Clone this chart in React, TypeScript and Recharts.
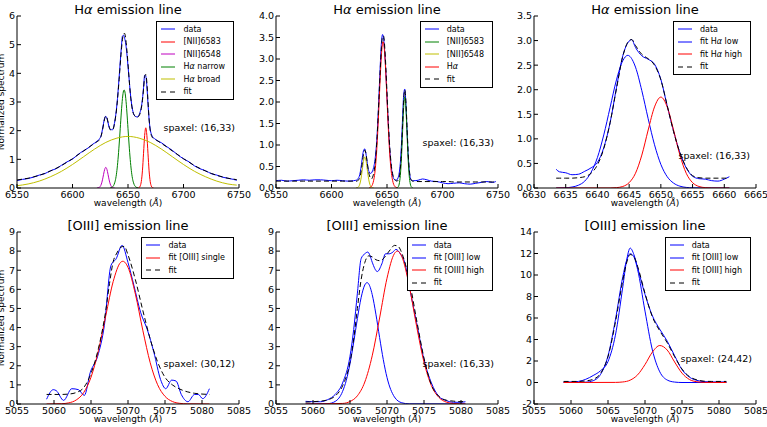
import React from 'react';
import { LineChart, Line, XAxis, YAxis } from 'recharts';

// ---- tick values ----
const haTicks = [6550, 6600, 6650, 6700, 6750];
const haZoomTicks = [6630, 6635, 6640, 6645, 6650, 6655, 6660, 6665];
const oiiiTicks = [5055, 5060, 5065, 5070, 5075, 5080, 5085];
const p1YTicks = [0, 1, 2, 3, 4, 5, 6];
const p2YTicks = [0, 0.5, 1, 1.5, 2, 2.5, 3, 3.5, 4];
const p3YTicks = [0, 0.5, 1, 1.5, 2, 2.5, 3, 3.5];
const p45YTicks = [0, 1, 2, 3, 4, 5, 6, 7, 8, 9];
const p6YTicks = [-2, 0, 2, 4, 6, 8, 10, 12, 14];

// ---- panel 1: H-alpha, broad + narrow ----
const p1Wave = [6550, 6555, 6560, 6565, 6570, 6575, 6580, 6585, 6590, 6595,
  6600, 6605, 6610, 6615, 6618, 6620, 6622, 6624, 6626, 6627,
  6628, 6629, 6630, 6631, 6632, 6633, 6634, 6636, 6638, 6640,
  6641, 6642, 6643, 6644, 6645, 6646, 6647, 6648, 6649, 6650,
  6651, 6652, 6653, 6654, 6656, 6658, 6660, 6661, 6662, 6663,
  6664, 6665, 6666, 6667, 6668, 6669, 6670, 6672, 6674, 6676,
  6680, 6685, 6690, 6695, 6700, 6705, 6710, 6715, 6720, 6725,
  6730, 6735, 6740, 6745, 6748];
const p1Data = [0.26, 0.30, 0.33, 0.38, 0.45, 0.50, 0.60, 0.67, 0.79, 0.91,
  1.01, 1.17, 1.30, 1.42, 1.52, 1.57, 1.63, 1.70, 1.86, 2.05,
  2.26, 2.45, 2.50, 2.43, 2.28, 2.12, 2.05, 2.03, 2.30, 2.90,
  3.35, 3.86, 4.40, 4.90, 5.30, 5.33, 5.22, 5.02, 4.68, 4.25,
  3.80, 3.35, 3.00, 2.75, 2.52, 2.48, 2.55, 2.66, 2.82, 3.10,
  3.50, 3.93, 3.90, 3.55, 2.95, 2.40, 2.05, 1.80, 1.72, 1.66,
  1.58, 1.44, 1.31, 1.15, 1.02, 0.91, 0.77, 0.67, 0.60, 0.50,
  0.45, 0.38, 0.34, 0.30, 0.27];
const p1Fit = [0.28, 0.31, 0.34, 0.39, 0.44, 0.51, 0.59, 0.68, 0.78, 0.90,
  1.02, 1.16, 1.29, 1.43, 1.51, 1.56, 1.61, 1.67, 1.84, 2.01,
  2.23, 2.42, 2.51, 2.46, 2.30, 2.14, 2.03, 2.02, 2.28, 2.86,
  3.29, 3.78, 4.30, 4.79, 5.18, 5.38, 5.39, 5.19, 4.81, 4.33,
  3.82, 3.33, 2.98, 2.72, 2.52, 2.46, 2.52, 2.62, 2.78, 3.05,
  3.45, 3.88, 3.96, 3.68, 3.04, 2.41, 2.02, 1.76, 1.70, 1.66,
  1.56, 1.43, 1.29, 1.16, 1.02, 0.90, 0.78, 0.68, 0.59, 0.51,
  0.44, 0.39, 0.34, 0.31, 0.29];
const p1BroadWave = [6550, 6560, 6570, 6580, 6590, 6600, 6610, 6620, 6630, 6640, 6650,
  6660, 6670, 6680, 6690, 6700, 6710, 6720, 6730, 6740, 6748];
const p1Broad = [0.08, 0.14, 0.24, 0.39, 0.58, 0.82, 1.09, 1.36, 1.59, 1.74, 1.80,
  1.74, 1.59, 1.36, 1.09, 0.82, 0.58, 0.39, 0.24, 0.14, 0.10];
const p1N6548Wave = [6622, 6623, 6624, 6625, 6626, 6627, 6628, 6629, 6630, 6631, 6632, 6633, 6634, 6635, 6636, 6637, 6638];
const p1N6548 = [0, 0.004, 0.017, 0.055, 0.138, 0.284, 0.477, 0.65, 0.72, 0.65, 0.477, 0.284, 0.138, 0.055, 0.017, 0.004, 0];
const p1HaNarrowWave = [6634, 6635, 6636, 6637, 6638, 6639, 6640, 6641, 6642, 6643, 6644, 6645, 6646, 6646.5,
  6647, 6648, 6649, 6650, 6651, 6652, 6653, 6654, 6655, 6656, 6657, 6658, 6659];
const p1HaNarrow = [0.005, 0.015, 0.038, 0.085, 0.18, 0.34, 0.61, 1.0, 1.5, 2.07, 2.65, 3.12, 3.39, 3.42,
  3.39, 3.12, 2.65, 2.07, 1.5, 1.0, 0.61, 0.34, 0.18, 0.085, 0.038, 0.015, 0.005];
const p1N6583Wave = [6659, 6660, 6661, 6662, 6663, 6664, 6665, 6666, 6667, 6668, 6669, 6670, 6671, 6672, 6673];
const p1N6583 = [0, 0.014, 0.066, 0.23, 0.60, 1.21, 1.83, 2.1, 1.83, 1.21, 0.60, 0.23, 0.066, 0.014, 0];

// ---- panel 2: H-alpha, narrow only ----
const p2Wave = [6550, 6555, 6560, 6565, 6570, 6575, 6580, 6585, 6590, 6595, 6600, 6605, 6610, 6615, 6620,
  6622, 6623, 6624, 6625, 6626, 6627, 6628, 6629, 6630, 6631,
  6632, 6633, 6634, 6635, 6636, 6637, 6638, 6639, 6640, 6641,
  6642, 6643, 6644, 6645, 6646, 6647, 6648, 6649, 6650, 6651,
  6652, 6653, 6654, 6655, 6656, 6657, 6658, 6659, 6660, 6661,
  6662, 6663, 6664, 6665, 6666, 6667, 6668, 6669, 6670, 6671,
  6672, 6673, 6674,
  6678, 6682, 6686, 6690, 6695, 6700, 6705, 6710, 6715, 6720, 6725, 6730, 6735, 6740, 6745, 6748];
const p2Data = [0.17, 0.18, 0.16, 0.17, 0.18, 0.19, 0.18, 0.19, 0.19, 0.18, 0.17, 0.18, 0.17, 0.16, 0.17,
  0.18, 0.19, 0.22, 0.27, 0.38, 0.55, 0.75, 0.88, 0.91, 0.80,
  0.62, 0.45, 0.37, 0.34, 0.35, 0.40, 0.48, 0.62, 0.85, 1.20,
  1.70, 2.30, 2.90, 3.38, 3.57, 3.46, 3.15, 2.68, 2.12, 1.58,
  1.10, 0.72, 0.46, 0.30, 0.22, 0.19, 0.18, 0.19, 0.24, 0.35,
  0.58, 1.00, 1.60, 2.15, 2.30, 1.98, 1.40, 0.82, 0.42, 0.24,
  0.18, 0.17, 0.17,
  0.18, 0.21, 0.19, 0.16, 0.15, 0.12, 0.10, 0.11, 0.12, 0.10, 0.09, 0.11, 0.13, 0.15, 0.13, 0.15];
const p2Fit = [0.16, 0.16, 0.16, 0.16, 0.16, 0.16, 0.16, 0.16, 0.16, 0.16, 0.16, 0.16, 0.16, 0.16, 0.16,
  0.16, 0.16, 0.18, 0.21, 0.30, 0.44, 0.63, 0.81, 0.88, 0.81,
  0.63, 0.44, 0.31, 0.23, 0.21, 0.25, 0.34, 0.50, 0.77, 1.15,
  1.65, 2.22, 2.79, 3.26, 3.53, 3.53, 3.26, 2.79, 2.22, 1.65,
  1.15, 0.77, 0.50, 0.34, 0.24, 0.20, 0.17, 0.16, 0.18, 0.25,
  0.45, 0.85, 1.45, 2.03, 2.28, 2.03, 1.45, 0.85, 0.45, 0.25,
  0.18, 0.16, 0.16,
  0.15, 0.15, 0.15, 0.15, 0.15, 0.15, 0.15, 0.14, 0.14, 0.14, 0.14, 0.14, 0.14, 0.14, 0.14, 0.14];
const p2N6583Wave = [6659, 6660, 6661, 6662, 6663, 6664, 6665, 6666, 6667, 6668, 6669, 6670, 6671, 6672, 6673];
const p2N6583 = [0.005, 0.024, 0.093, 0.29, 0.69, 1.29, 1.87, 2.12, 1.87, 1.29, 0.69, 0.29, 0.093, 0.024, 0.005];
const p2N6548Wave = [6622, 6623, 6624, 6625, 6626, 6627, 6628, 6629, 6630, 6631, 6632, 6633, 6634, 6635, 6636, 6637, 6638];
const p2N6548 = [0, 0.004, 0.017, 0.055, 0.138, 0.284, 0.477, 0.65, 0.72, 0.65, 0.477, 0.284, 0.138, 0.055, 0.017, 0.004, 0];
const p2HaWave = [6634, 6635, 6636, 6637, 6638, 6639, 6640, 6641, 6642, 6643, 6644, 6645, 6646, 6646.5,
  6647, 6648, 6649, 6650, 6651, 6652, 6653, 6654, 6655, 6656, 6657, 6658, 6659];
const p2Ha = [0.005, 0.015, 0.038, 0.085, 0.18, 0.34, 0.61, 0.99, 1.49, 2.06, 2.63, 3.10, 3.37, 3.40,
  3.37, 3.10, 2.63, 2.06, 1.49, 0.99, 0.61, 0.34, 0.18, 0.085, 0.038, 0.015, 0.005];

// ---- panel 3: H-alpha, two components ----
const p3Wave = [6633.5, 6634, 6635, 6636, 6637, 6638, 6639, 6640, 6641, 6642,
  6643, 6644, 6645, 6645.4, 6646, 6647, 6648, 6649, 6650, 6651,
  6652, 6653, 6654, 6655, 6656, 6657, 6658, 6659, 6660, 6660.8];
const p3Data = [0.38, 0.33, 0.31, 0.27, 0.28, 0.34, 0.41, 0.52, 0.82, 1.33,
  2.04, 2.69, 2.99, 3.02, 2.86, 2.69, 2.62, 2.52, 2.21, 1.67,
  1.16, 0.72, 0.41, 0.24, 0.19, 0.18, 0.15, 0.14, 0.18, 0.23];
const p3Fit = [0.20, 0.20, 0.20, 0.20, 0.21, 0.23, 0.30, 0.47, 0.80, 1.33,
  2.02, 2.68, 3.00, 3.02, 2.90, 2.72, 2.63, 2.50, 2.20, 1.68,
  1.15, 0.72, 0.42, 0.25, 0.21, 0.20, 0.20, 0.20, 0.20, 0.20];
const p3LowWave = [6633.5, 6635, 6636, 6637, 6638, 6639, 6640, 6641, 6642, 6643, 6644, 6644.8,
  6645, 6646, 6647, 6648, 6649, 6650, 6651, 6652, 6653, 6654, 6655, 6657, 6660.8];
const p3Low = [0, 0.005, 0.02, 0.056, 0.14, 0.32, 0.62, 1.08, 1.64, 2.20, 2.59, 2.70,
  2.69, 2.46, 1.98, 1.41, 0.88, 0.48, 0.23, 0.10, 0.037, 0.012, 0.003, 0, 0];
const p3HighWave = [6633.5, 6642, 6643, 6644, 6645, 6646, 6647, 6648, 6649, 6650,
  6651, 6652, 6653, 6654, 6655, 6656, 6657, 6658, 6660.8];
const p3High = [0, 0, 0.007, 0.031, 0.109, 0.30, 0.67, 1.18, 1.65, 1.85,
  1.65, 1.18, 0.67, 0.30, 0.109, 0.031, 0.007, 0, 0];

// ---- panel 4: [OIII] single ----
const p4Wave = [5059.0, 5059.9, 5060.3, 5061.3, 5062.4, 5063.3, 5064.1, 5064.9, 5065.9, 5066.8,
  5067.7, 5068.4, 5069.2, 5070.0, 5070.8, 5071.7, 5072.6, 5073.5, 5074.4, 5075.1,
  5075.9, 5076.5, 5077.2, 5078.1, 5079.0, 5079.5, 5080.1, 5081.0];
const p4Data = [0.25, 0.75, 0.70, 0.19, 0.80, 0.75, 0.45, 1.65, 2.5, 4.1,
  7.25, 7.6, 8.3, 7.4, 6.2, 4.8, 3.9, 2.7, 1.28, 0.8,
  1.25, 1.2, 0.5, 0.12, 0.5, 0.5, 0.28, 0.8];
const p4FitWave = [5059, 5060, 5061, 5062, 5063, 5064, 5065, 5066, 5067, 5067.5, 5068, 5068.5, 5069,
  5069.5, 5070, 5071, 5072, 5073, 5074, 5075, 5076, 5077, 5078, 5079, 5080, 5081];
const p4Fit = [0.5, 0.5, 0.5, 0.52, 0.6, 0.85, 1.6, 2.9, 4.9, 6.3, 7.45, 7.9, 8.2,
  8.25, 7.8, 6.5, 4.9, 3.4, 2.2, 1.4, 1.0, 0.78, 0.64, 0.56, 0.52, 0.5];
const p4SingleWave = [5059, 5061, 5062, 5063, 5064, 5065, 5066, 5067, 5068, 5069, 5069.3,
  5070, 5071, 5072, 5073, 5074, 5075, 5076, 5077, 5078, 5081];
const p4Single = [0, 0.015, 0.06, 0.21, 0.59, 1.40, 2.79, 4.63, 6.41, 7.41, 7.47,
  7.15, 5.75, 3.86, 2.16, 1.01, 0.40, 0.13, 0.035, 0.008, 0];

// ---- panel 5: [OIII] two components, spaxel (16,33) ----
const p5Wave = [5059.0, 5060.0, 5061.0, 5062.0, 5063.0, 5064.0, 5065.0, 5065.5, 5066.0, 5066.5,
  5067.0, 5067.4, 5067.7, 5068.0, 5068.7, 5069.3, 5069.8, 5070.3, 5070.8, 5071.2,
  5071.8, 5072.5, 5073.0, 5074.0, 5075.0, 5076.0, 5077.0, 5078.0, 5079.0, 5080.0, 5080.6];
const p5Data = [0.14, 0.12, 0.12, 0.23, 0.5, 1.1, 2.5, 3.9, 5.8, 7.6,
  7.86, 7.95, 7.77, 7.42, 6.93, 7.33, 7.86, 7.86, 7.95, 8.09,
  7.86, 7.25, 6.19, 4.26, 2.33, 1.1, 0.4, 0.18, 0.09, 0.09, 0.12];
const p5FitWave = [5059, 5060, 5061, 5062, 5063, 5064, 5065, 5065.5, 5066, 5066.5,
  5067, 5067.5, 5068, 5068.5, 5069, 5069.5, 5070, 5070.5, 5071, 5071.5,
  5072, 5072.5, 5073, 5074, 5075, 5076, 5077, 5078, 5079, 5080, 5080.6];
const p5Fit = [0.1, 0.12, 0.15, 0.22, 0.42, 0.95, 2.2, 3.4, 5.0, 6.5,
  7.4, 7.75, 7.7, 7.55, 7.5, 7.6, 7.85, 8.1, 8.3, 8.25,
  7.9, 7.3, 6.5, 4.4, 2.4, 1.0, 0.4, 0.2, 0.15, 0.12, 0.15];
const p5LowWave = [5059, 5062, 5063, 5064, 5064.5, 5065, 5065.5, 5066, 5066.5, 5067, 5067.3,
  5067.5, 5068, 5068.5, 5069, 5069.5, 5070, 5071, 5072, 5073, 5080.6];
const p5Low = [0, 0.018, 0.135, 0.66, 1.24, 2.11, 3.23, 4.47, 5.56, 6.23, 6.35,
  6.30, 5.73, 4.70, 3.48, 2.32, 1.39, 0.37, 0.064, 0.007, 0];
const p5HighWave = [5059, 5064, 5065, 5066, 5067, 5068, 5069, 5070, 5071, 5071.4,
  5072, 5073, 5074, 5075, 5076, 5077, 5078, 5079, 5080.6];
const p5High = [0, 0.03, 0.13, 0.43, 1.15, 2.52, 4.50, 6.58, 7.87, 8.0,
  7.72, 6.19, 4.07, 2.19, 0.96, 0.35, 0.10, 0.025, 0];

// ---- panel 6: [OIII] two components, spaxel (24,42) ----
const p6Wave = [5059, 5060, 5061, 5062, 5063, 5064, 5065, 5066, 5067, 5067.5, 5068, 5068.5, 5069,
  5070, 5071, 5072, 5073, 5074, 5075, 5076, 5077, 5078, 5079, 5080, 5081];
const p6Data = [0.05, 0.05, 0.1, 0.3, 0.65, 1.1, 1.95, 4.4, 8.9, 11.3, 12.5, 11.9, 10.7,
  8.2, 6.2, 4.95, 3.85, 2.5, 1.2, 0.5, 0.2, 0.08, 0.05, 0.05, 0.05];
const p6Fit = [0.1, 0.1, 0.1, 0.15, 0.3, 0.85, 2.4, 5.6, 9.5, 11.1, 11.9, 11.7, 10.8,
  8.3, 6.1, 4.8, 3.7, 2.4, 1.25, 0.55, 0.25, 0.12, 0.1, 0.1, 0.1];
const p6LowWave = [5059, 5061, 5062, 5063, 5064, 5065, 5066, 5067, 5067.5, 5068, 5068.5, 5069,
  5070, 5071, 5072, 5073, 5074, 5075, 5081];
const p6Low = [0, 0.002, 0.03, 0.17, 0.76, 2.48, 5.83, 9.84, 11.31, 11.98, 11.69, 10.51,
  6.64, 3.02, 0.99, 0.23, 0.04, 0, 0];
const p6HighWave = [5059, 5066, 5067, 5068, 5069, 5070, 5071, 5072, 5073, 5074, 5075, 5076, 5077, 5078, 5081];
const p6High = [0, 0.01, 0.05, 0.22, 0.71, 1.67, 2.83, 3.44, 3.02, 1.91, 0.87, 0.28, 0.07, 0.01, 0];

const BLUE = '#0000ff';
const RED = '#ff0000';
const GREEN = '#008000';
const MAGENTA = '#bf00bf';
const YELLOW = '#bfbf00';
const BLACK = '#000000';

const PW = 222;
const PH = 172;
const FONT = 'DejaVu Sans';
const tickFont = { fontSize: 9.5, fill: '#000', fontFamily: FONT };

const zip = (xs: number[], ys: number[]) => xs.map((x, i) => ({ x, y: ys[i] }));

interface Series {
  label: React.ReactNode;
  xs: number[];
  ys: number[];
  color: string;
  dashed?: boolean;
}

interface PanelProps {
  left: number;
  top: number;
  xDomain: [number, number];
  xTicks: number[];
  yDomain: [number, number];
  yTicks: number[];
  yDigits: number;
  title: React.ReactNode;
  series: Series[];
  spaxel: string;
  spaxelY: number;
  spaxelInset?: number;
  yLabel?: boolean;
}

const Panel: React.FC<PanelProps> = ({
  left, top, xDomain, xTicks, yDomain, yTicks, yDigits, title, series, spaxel, spaxelY, spaxelInset = 4, yLabel,
}) => {
  const right = left + PW;
  return (
    <>
      <div style={{ position: 'absolute', left: left - 40, top: top - 10 }}>
        <LineChart width={PW + 62} height={PH + 40} margin={{ top: 10, right: 22, bottom: 0, left: 0 }}>
          <XAxis xAxisId="b" type="number" dataKey="x" domain={xDomain} ticks={xTicks} interval={0}
            allowDataOverflow height={30} tickSize={-4} tickMargin={7} stroke="#000" tick={tickFont} />
          <XAxis xAxisId="t" orientation="top" type="number" dataKey="x" domain={xDomain} ticks={xTicks}
            interval={0} allowDataOverflow height={0} tickSize={-4} tick={false} stroke="#000" />
          <YAxis yAxisId="l" type="number" domain={yDomain} ticks={yTicks} interval={0} allowDataOverflow
            width={40} tickSize={-4} tickMargin={6} stroke="#000" tick={tickFont}
            tickFormatter={(v: number) => v.toFixed(yDigits)} />
          <YAxis yAxisId="r" orientation="right" type="number" domain={yDomain} ticks={yTicks} interval={0}
            allowDataOverflow width={0} tickSize={-4} tick={false} stroke="#000" />
          {series.map((s, i) => (
            <Line key={i} xAxisId="b" yAxisId="l" data={zip(s.xs, s.ys)} dataKey="y" type="monotone"
              stroke={s.color} strokeWidth={1} strokeDasharray={s.dashed ? '5 3' : undefined}
              dot={false} activeDot={false} isAnimationActive={false} />
          ))}
        </LineChart>
      </div>
      <div style={{ position: 'absolute', left, width: PW, top: top - 13, textAlign: 'center', fontSize: 13, lineHeight: '13px', whiteSpace: 'nowrap' }}>
        {title}
      </div>
      <div style={{ position: 'absolute', left, width: PW, top: top + PH + 11, textAlign: 'center', fontSize: 9, lineHeight: '9px' }}>
        wavelength (<i>Å</i>)
      </div>
      {yLabel && (
        <div style={{ position: 'absolute', left: 1 - 70, width: 140, top: top + PH / 2 - 5, height: 10, textAlign: 'center', fontSize: 9, lineHeight: '10px', transform: 'rotate(-90deg)', whiteSpace: 'nowrap' }}>
          Normalized spectrum
        </div>
      )}
      <div style={{ position: 'absolute', right: 767 - (right - spaxelInset), top: top + spaxelY - 6, fontSize: 9.5, lineHeight: '12px', whiteSpace: 'nowrap' }}>
        spaxel: {spaxel}
      </div>
      <div style={{ position: 'absolute', right: 767 - (right - 5), top: top + 5, border: '1px solid #000', background: '#fff', padding: '1px 8px 1px 4px' }}>
        {series.map((s, i) => (
          <div key={i} style={{ display: 'flex', alignItems: 'center', height: 12.5, fontSize: 8, whiteSpace: 'nowrap' }}>
            <svg width={14} height={6} style={{ marginRight: 8, flex: 'none' }}>
              <line x1={0} y1={3} x2={14} y2={3} stroke={s.color} strokeWidth={1} strokeDasharray={s.dashed ? '5 4' : undefined} />
            </svg>
            <span>{s.label}</span>
          </div>
        ))}
      </div>
    </>
  );
};

const Ha = () => <>H<i>α</i></>;

const App: React.FC = () => {
  const cols = [17, 276, 534];
  const rows = [16, 232];
  return (
    <div style={{ position: 'absolute', left: 0, top: 0, width: 767, height: 427, overflow: 'hidden', background: '#fff', fontFamily: FONT, color: '#000' }}>
      <Panel left={cols[0]} top={rows[0]} xDomain={[6550, 6750]} xTicks={haTicks} yDomain={[0, 6]} yTicks={p1YTicks} yDigits={0}
        title={<><Ha /> emission line</>} spaxel="(16,33)" spaxelY={112} yLabel
        series={[
          { label: 'data', xs: p1Wave, ys: p1Data, color: BLUE },
          { label: '[NII]6583', xs: p1N6583Wave, ys: p1N6583, color: RED },
          { label: '[NII]6548', xs: p1N6548Wave, ys: p1N6548, color: MAGENTA },
          { label: <><Ha /> narrow</>, xs: p1HaNarrowWave, ys: p1HaNarrow, color: GREEN },
          { label: <><Ha /> broad</>, xs: p1BroadWave, ys: p1Broad, color: YELLOW },
          { label: 'fit', xs: p1Wave, ys: p1Fit, color: BLACK, dashed: true },
        ]} />
      <Panel left={cols[1]} top={rows[0]} xDomain={[6550, 6750]} xTicks={haTicks} yDomain={[0, 4]} yTicks={p2YTicks} yDigits={1}
        title={<><Ha /> emission line</>} spaxel="(16,33)" spaxelY={127}
        series={[
          { label: 'data', xs: p2Wave, ys: p2Data, color: BLUE },
          { label: '[NII]6583', xs: p2N6583Wave, ys: p2N6583, color: GREEN },
          { label: '[NII]6548', xs: p2N6548Wave, ys: p2N6548, color: YELLOW },
          { label: <Ha />, xs: p2HaWave, ys: p2Ha, color: RED },
          { label: 'fit', xs: p2Wave, ys: p2Fit, color: BLACK, dashed: true },
        ]} />
      <Panel left={cols[2]} top={rows[0]} xDomain={[6630, 6665]} xTicks={haZoomTicks} yDomain={[0, 3.5]} yTicks={p3YTicks} yDigits={1}
        title={<><Ha /> emission line</>} spaxel="(16,33)" spaxelY={140} spaxelInset={6}
        series={[
          { label: 'data', xs: p3Wave, ys: p3Data, color: BLUE },
          { label: <>fit <Ha /> low</>, xs: p3LowWave, ys: p3Low, color: BLUE },
          { label: <>fit <Ha /> high</>, xs: p3HighWave, ys: p3High, color: RED },
          { label: 'fit', xs: p3Wave, ys: p3Fit, color: BLACK, dashed: true },
        ]} />
      <Panel left={cols[0]} top={rows[1]} xDomain={[5055, 5085]} xTicks={oiiiTicks} yDomain={[0, 9]} yTicks={p45YTicks} yDigits={0}
        title="[OIII] emission line" spaxel="(30,12)" spaxelY={132} yLabel
        series={[
          { label: 'data', xs: p4Wave, ys: p4Data, color: BLUE },
          { label: 'fit [OIII] single', xs: p4SingleWave, ys: p4Single, color: RED },
          { label: 'fit', xs: p4FitWave, ys: p4Fit, color: BLACK, dashed: true },
        ]} />
      <Panel left={cols[1]} top={rows[1]} xDomain={[5055, 5085]} xTicks={oiiiTicks} yDomain={[0, 9]} yTicks={p45YTicks} yDigits={0}
        title="[OIII] emission line" spaxel="(16,33)" spaxelY={132}
        series={[
          { label: 'data', xs: p5Wave, ys: p5Data, color: BLUE },
          { label: 'fit [OIII] low', xs: p5LowWave, ys: p5Low, color: BLUE },
          { label: 'fit [OIII] high', xs: p5HighWave, ys: p5High, color: RED },
          { label: 'fit', xs: p5FitWave, ys: p5Fit, color: BLACK, dashed: true },
        ]} />
      <Panel left={cols[2]} top={rows[1]} xDomain={[5055, 5085]} xTicks={oiiiTicks} yDomain={[-2, 14]} yTicks={p6YTicks} yDigits={0}
        title="[OIII] emission line" spaxel="(24,42)" spaxelY={127}
        series={[
          { label: 'data', xs: p6Wave, ys: p6Data, color: BLUE },
          { label: 'fit [OIII] low', xs: p6LowWave, ys: p6Low, color: BLUE },
          { label: 'fit [OIII] high', xs: p6HighWave, ys: p6High, color: RED },
          { label: 'fit', xs: p6Wave, ys: p6Fit, color: BLACK, dashed: true },
        ]} />
    </div>
  );
};

export default App;
